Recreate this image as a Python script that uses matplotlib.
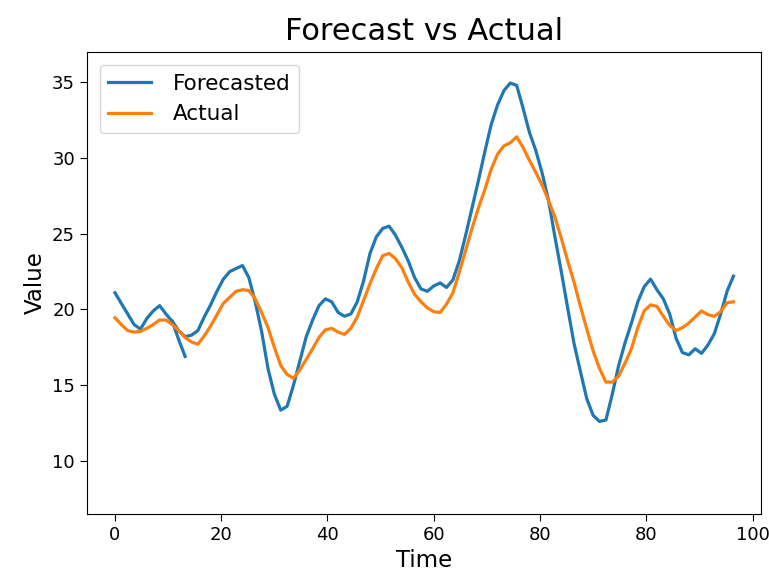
import numpy as np
import matplotlib
matplotlib.use("Agg")
import matplotlib.pyplot as plt

# forecast comes in two pieces (the first one stops early and the second restarts at t=9)
fc_first_start = 0
fc_first = [21.1, 20.4, 19.7, 19.0, 18.7, 19.4, 19.9, 20.25, 19.7, 19.2, 18.0, 16.9]
fc_second_start = 9
fc_second = [19.2, 18.6, 18.2, 18.3, 18.6, 19.5, 20.3, 21.2, 22.0, 22.5, 22.7, 22.9,
             22.1, 20.5, 18.55, 16.1, 14.4, 13.35, 13.6, 15.0, 16.6, 18.2, 19.3, 20.25,
             20.7, 20.5, 19.8, 19.55, 19.7, 20.5, 21.9, 23.7, 24.8, 25.35, 25.5, 24.9,
             24.1, 23.2, 22.1, 21.35, 21.2, 21.55, 21.75, 21.45, 21.95, 23.2, 24.9, 26.7,
             28.5, 30.4, 32.2, 33.5, 34.45, 34.95, 34.8, 33.3, 31.7, 30.5, 29.0, 27.2,
             24.8, 22.5, 20.1, 17.75, 15.9, 14.1, 13.0, 12.6, 12.7, 14.4, 16.3, 17.8,
             19.1, 20.5, 21.5, 22.0, 21.3, 20.7, 19.7, 18.1, 17.15, 17.0, 17.4, 17.1,
             17.65, 18.4, 19.7, 21.2, 22.2]

actual = [19.45, 19.0, 18.6, 18.5, 18.55, 18.75, 19.0, 19.3, 19.3, 19.0, 18.6, 18.15,
          17.85, 17.7, 18.25, 18.9, 19.65, 20.4, 20.8, 21.2, 21.3, 21.25, 20.7, 19.8,
          18.8, 17.5, 16.3, 15.7, 15.45, 16.0, 16.7, 17.4, 18.15, 18.65, 18.75, 18.5,
          18.35, 18.75, 19.5, 20.6, 21.7, 22.7, 23.55, 23.7, 23.35, 22.75, 21.8, 21.0,
          20.5, 20.1, 19.85, 19.8, 20.35, 21.1, 22.45, 23.9, 25.35, 26.7, 27.9, 29.25,
          30.25, 30.8, 31.0, 31.4, 30.7, 29.85, 29.05, 28.2, 27.2, 26.1, 24.7, 23.2,
          21.8, 20.2, 18.7, 17.25, 16.1, 15.2, 15.2, 15.6, 16.45, 17.4, 18.8, 19.9,
          20.3, 20.2, 19.55, 18.95, 18.6, 18.8, 19.1, 19.5, 19.9, 19.65, 19.55, 19.85,
          20.45, 20.5]

tick_labels = ["0", "20", "40", "60", "80", "80", "100"]

t_actual = np.arange(len(actual))
t_fc = np.concatenate([np.arange(fc_first_start, fc_first_start + len(fc_first)), [np.nan],
                       np.arange(fc_second_start, fc_second_start + len(fc_second))])
forecast = np.concatenate([fc_first, [np.nan], fc_second])

fig = plt.figure(figsize=(7.69, 5.78), dpi=100)
ax = fig.add_axes([0.113, 0.111, 0.876, 0.799])

ax.plot(t_fc, forecast, color="#1f77b4", linewidth=2.3, label="Forecasted")
ax.plot(t_actual, actual, color="#ff7f0e", linewidth=2.3, label="Actual")

ax.set_xlim(-4.4, 101.25)
ax.set_ylim(6.5, 37.0)
ax.set_xticks(np.linspace(0, 100, 7))
ax.set_xticklabels(tick_labels)
ax.set_yticks([10, 15, 20, 25, 30, 35])
ax.tick_params(labelsize=13, length=5)

ax.set_title("Forecast vs Actual", fontsize=22, pad=9)
ax.set_xlabel("Time", fontsize=16.5)
ax.set_ylabel("Value", fontsize=16.5)
ax.legend(loc="upper left", fontsize=15.5, handletextpad=1.0, borderaxespad=0.6)

fig.savefig("out.png", dpi=100)
